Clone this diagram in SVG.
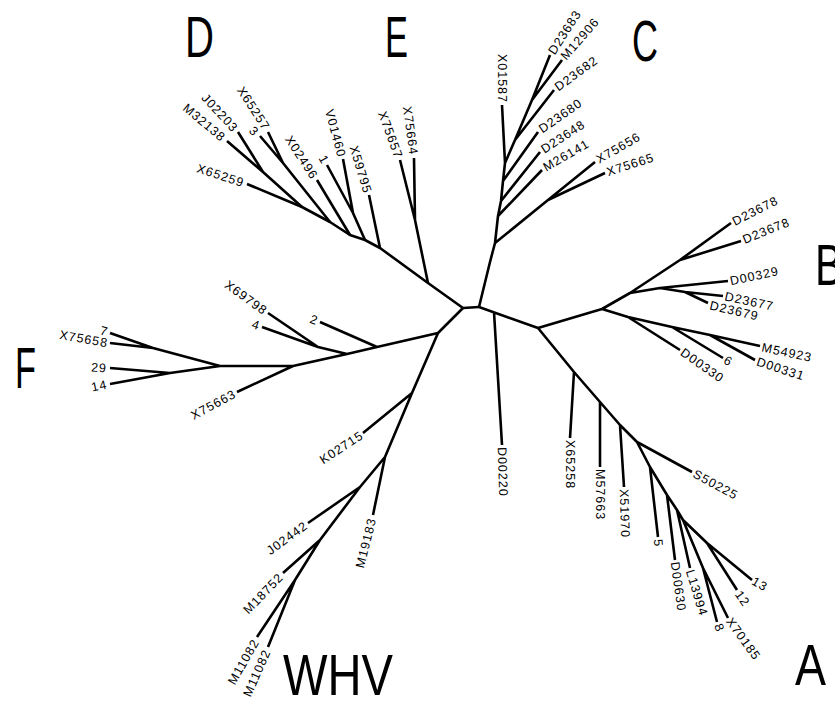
<svg xmlns="http://www.w3.org/2000/svg" width="835" height="701" viewBox="0 0 835 701">
<style>
.e{fill:none;stroke:#000;stroke-width:2.6;stroke-linejoin:round;stroke-linecap:butt}
.l{font-family:"Liberation Sans",Arial,sans-serif;font-size:12.5px;letter-spacing:1px;fill:#000}
.n{text-anchor:end}
.big{font-family:"Liberation Sans Narrow","Liberation Sans",Arial,sans-serif;font-size:57px;fill:#000}
</style>
<rect width="835" height="701" fill="#fff"/>
<g id="connectors">
<path class="e" d="M463,308 L479,307 M463,308 L428,283 L380,248 L365,240 L350,235 L330,222 L302,207 L247,184"/>
<path class="e" d="M428,283 L415,220 L414,158 M415,220 L400,160"/>
<path class="e" d="M380,248 L369,195 M365,240 L353,213 L343,159 M353,213 L327,165 M350,235 L317,180 M330,222 L283,163 L268,132 M283,163 L260,136 M302,207 L263,172 L238,132 M263,172 L227,141"/>
<path class="e" d="M463,308 L438,333 L377,347 L347,354 L293,366 L220,366 M377,347 L320,322 M347,354 L318,347 L268,313 M318,347 L262,327 M293,366 L237,392 M220,366 L153,348 L110,333 M153,348 L110,343 M220,366 L170,373 L110,368 M170,373 L110,384"/>
<path class="e" d="M438,333 L412,393 L385,457 L360,487 L320,540 L295,580 L257,637 M295,580 L268,647 M412,393 L363,433 M385,457 L373,515 M360,487 L308,523 M320,540 L283,573"/>
<path class="e" d="M479,307 L490,262 L495,243 L498,216 L501,201 L503,181 L505,163 L502,105 M495,243 L548,200 L595,162 M548,200 L605,173 M498,216 L542,170 M501,201 L540,152 M503,181 L538,132 M505,163 L515,140 L554,90 M515,140 L532,100 L550,55 M532,100 L562,60"/>
<path class="e" d="M494,312 L502,445 M479,307 L538,328"/>
<path class="e" d="M538,328 L602,309 L630,293 L680,260 L731,223 M680,260 L741,241 M630,293 L660,288 L728,281 M660,288 L685,292 L723,296 M685,292 L708,303 M602,309 L628,317 L672,327 L710,335 L760,346 M710,335 L755,360 M672,327 L723,358 M628,317 L680,350"/>
<path class="e" d="M538,328 L574,372 L600,402 L620,425 L637,442 L650,467 L667,495 L677,510 L683,520 M574,372 L570,438 M600,402 L600,467 M620,425 L624,487 M637,442 L692,472 M650,467 L658,537 M667,495 L675,560 M677,510 L690,568 M683,520 L707,543 L752,580 M707,543 L737,590 M683,520 L703,568 L717,622 M703,568 L728,618"/>
</g>
<g id="clade-D" class="l n">
<text transform="translate(244,183) rotate(18)" dy=".35em">X65259</text>
<text transform="translate(224,139) rotate(40)" dy=".35em">M32138</text>
<text transform="translate(236,130) rotate(47)" dy=".35em">J02203</text>
<text transform="translate(267,129) rotate(57)" dy=".35em">X65257</text>
<text transform="translate(257,134) rotate(45)" dy=".35em">3</text>
<text transform="translate(315,178) rotate(57)" dy=".35em">X02496</text>
<text transform="translate(326,163) rotate(60)" dy=".35em">1</text>
<text transform="translate(342,157) rotate(75)" dy=".35em">V01460</text>
<text transform="translate(368,193) rotate(73)" dy=".35em">X59795</text>
</g>
<g id="clade-E" class="l n">
<text transform="translate(399,158) rotate(70)" dy=".35em">X75657</text>
<text transform="translate(414,155) rotate(82)" dy=".35em">X75664</text>
</g>
<g id="clade-C" class="l">
<text transform="translate(551,53) rotate(-57)" dy=".35em">D23683</text>
<text transform="translate(563,58) rotate(-49)" dy=".35em">M12906</text>
<text transform="translate(556,88) rotate(-36)" dy=".35em">D23682</text>
<text transform="translate(540,130) rotate(-35)" dy=".35em">D23680</text>
<text transform="translate(542,150) rotate(-33)" dy=".35em">D23648</text>
<text transform="translate(544,168) rotate(-30)" dy=".35em">M26141</text>
<text transform="translate(597,160) rotate(-30)" dy=".35em">X75656</text>
<text transform="translate(607,172) rotate(-18)" dy=".35em">X75665</text>
<text class="n" transform="translate(502,103) rotate(90)" dy=".35em">X01587</text>
</g>
<g id="clade-B" class="l">
<text transform="translate(733,222) rotate(-27)" dy=".35em">D23678</text>
<text transform="translate(743,240) rotate(-22)" dy=".35em">D23678</text>
<text transform="translate(730,281) rotate(-12)" dy=".35em">D00329</text>
<text transform="translate(725,296) rotate(12)" dy=".35em">D23677</text>
<text transform="translate(710,305) rotate(13)" dy=".35em">D23679</text>
<text transform="translate(762,347) rotate(12)" dy=".35em">M54923</text>
<text transform="translate(757,361) rotate(18)" dy=".35em">D00331</text>
<text transform="translate(725,359) rotate(30)" dy=".35em">6</text>
<text transform="translate(682,351) rotate(35)" dy=".35em">D00330</text>
</g>
<g id="clade-A" class="l">
<text transform="translate(502,447) rotate(88)" dy=".35em">D00220</text>
<text transform="translate(570,440) rotate(90)" dy=".35em">X65258</text>
<text transform="translate(600,469) rotate(90)" dy=".35em">M57663</text>
<text transform="translate(624,489) rotate(88)" dy=".35em">X51970</text>
<text transform="translate(694,473) rotate(28)" dy=".35em">S50225</text>
<text transform="translate(658,539) rotate(85)" dy=".35em">5</text>
<text transform="translate(675,562) rotate(82)" dy=".35em">D00630</text>
<text transform="translate(690,570) rotate(73)" dy=".35em">L13994</text>
<text transform="translate(718,624) rotate(68)" dy=".35em">8</text>
<text transform="translate(729,619) rotate(54)" dy=".35em">X70185</text>
<text transform="translate(738,592) rotate(55)" dy=".35em">12</text>
<text transform="translate(753,580) rotate(30)" dy=".35em">13</text>
</g>
<g id="clade-F" class="l n">
<text transform="translate(108,332) rotate(15)" dy=".35em">7</text>
<text transform="translate(108,343) rotate(10)" dy=".35em">X75658</text>
<text transform="translate(107,368) rotate(3)" dy=".35em">29</text>
<text transform="translate(107,384) rotate(-12)" dy=".35em">14</text>
<text transform="translate(235,393) rotate(-28)" dy=".35em">X75663</text>
<text transform="translate(266,312) rotate(36)" dy=".35em">X69798</text>
<text transform="translate(260,326) rotate(18)" dy=".35em">4</text>
<text transform="translate(318,321) rotate(20)" dy=".35em">2</text>
</g>
<g id="clade-WHV" class="l n">
<text transform="translate(362,434) rotate(-33)" dy=".35em">K02715</text>
<text transform="translate(372,518) rotate(-76)" dy=".35em">M19183</text>
<text transform="translate(306,524) rotate(-36)" dy=".35em">J02442</text>
<text transform="translate(281,575) rotate(-46)" dy=".35em">M18752</text>
<text transform="translate(256,640) rotate(-60)" dy=".35em">M11082</text>
<text transform="translate(267,650) rotate(-66)" dy=".35em">M11082</text>
</g>
<g id="group-labels" class="big">
<text x="185" y="57" textLength="29" lengthAdjust="spacingAndGlyphs">D</text>
<text x="385" y="57" textLength="23" lengthAdjust="spacingAndGlyphs">E</text>
<text x="632" y="61" textLength="26" lengthAdjust="spacingAndGlyphs">C</text>
<text x="815" y="285" textLength="28" lengthAdjust="spacingAndGlyphs">B</text>
<text x="15" y="388" textLength="21" lengthAdjust="spacingAndGlyphs">F</text>
<text x="795" y="685" textLength="31" lengthAdjust="spacingAndGlyphs">A</text>
<text x="283" y="695" textLength="110" lengthAdjust="spacingAndGlyphs">WHV</text>
</g>
</svg>
